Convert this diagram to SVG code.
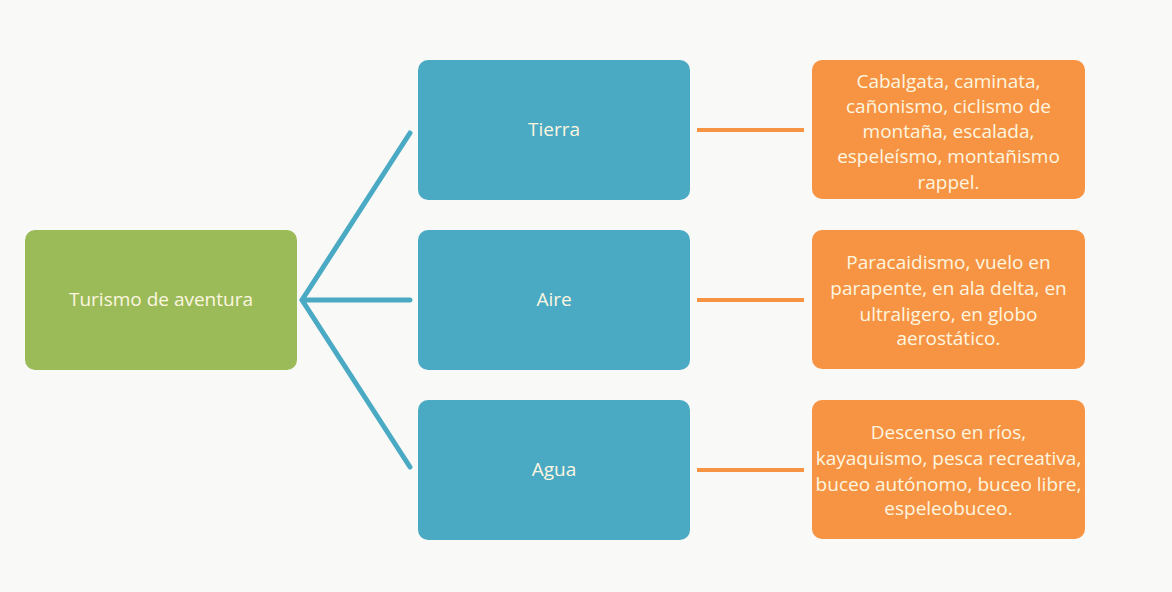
<svg xmlns="http://www.w3.org/2000/svg" width="1172" height="592" viewBox="0 0 1172 592">
<style>
.t{font-family:"Open Sans","Liberation Sans",sans-serif;font-size:19px;fill:#fdf6e0;text-anchor:middle}
.blue{fill:#4aaac4}
.org{fill:#f79443}
.cb{stroke:#4aaac4;stroke-width:5;fill:none;stroke-linecap:round}
.co{stroke:#f79443;stroke-width:4;fill:none}
</style>
<rect width="1172" height="592" fill="#f9f9f8"/>
<g id="connectors">
<path class="cb" d="M410,133 L302,300 L410,467 M302,300 L410,300"/>
<line class="co" x1="697" y1="130" x2="804" y2="130"/>
<line class="co" x1="697" y1="300" x2="804" y2="300"/>
<line class="co" x1="697" y1="470" x2="804" y2="470"/>
</g>
<g id="root">
<rect x="25" y="230" width="272" height="140" rx="10" fill="#9bbb59"/>
<text class="t" x="161" y="306">Turismo de aventura</text>
</g>
<g id="tierra">
<rect class="blue" x="418" y="60" width="272" height="140" rx="10"/>
<text class="t" x="554" y="136">Tierra</text>
</g>
<g id="aire">
<rect class="blue" x="418" y="230" width="272" height="140" rx="10"/>
<text class="t" x="554" y="306">Aire</text>
</g>
<g id="agua">
<rect class="blue" x="418" y="400" width="272" height="140" rx="10"/>
<text class="t" x="554" y="476">Agua</text>
</g>
<g id="tierra-act">
<rect class="org" x="812" y="60" width="273" height="139" rx="10"/>
<text class="t" x="948.5" y="88">Cabalgata, caminata,</text>
<text class="t" x="948.5" y="113">cañonismo, ciclismo de</text>
<text class="t" x="948.5" y="138">montaña, escalada,</text>
<text class="t" x="948.5" y="163">espeleísmo, montañismo</text>
<text class="t" x="948.5" y="189">rappel.</text>
</g>
<g id="aire-act">
<rect class="org" x="812" y="230" width="273" height="139" rx="10"/>
<text class="t" x="948.5" y="269">Paracaidismo, vuelo en</text>
<text class="t" x="948.5" y="295">parapente, en ala delta, en</text>
<text class="t" x="948.5" y="321">ultraligero, en globo</text>
<text class="t" x="948.5" y="345">aerostático.</text>
</g>
<g id="agua-act">
<rect class="org" x="812" y="400" width="273" height="139" rx="10"/>
<text class="t" x="948.5" y="439">Descenso en ríos,</text>
<text class="t" x="948.5" y="465">kayaquismo, pesca recreativa,</text>
<text class="t" x="948.5" y="491">buceo autónomo, buceo libre,</text>
<text class="t" x="948.5" y="515">espeleobuceo.</text>
</g>
</svg>
